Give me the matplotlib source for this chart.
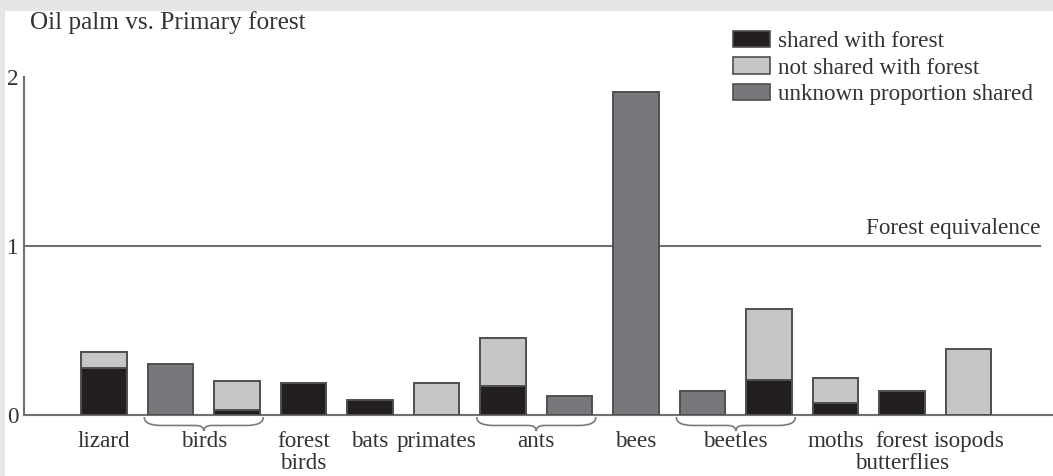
import matplotlib
matplotlib.use("Agg")
import matplotlib.pyplot as plt
from matplotlib.patches import Rectangle, Patch
from matplotlib.path import Path
from matplotlib.patches import PathPatch
import numpy as np

# ---------------- data ----------------
positions = list(range(14))
shared = [0.28, 0, 0.03, 0.19, 0.09, 0, 0.17, 0, 0, 0, 0.21, 0.07, 0.14, 0]
not_shared = [0.09, 0, 0.17, 0, 0, 0.19, 0.285, 0, 0, 0, 0.42, 0.15, 0, 0.39]
unknown = [0, 0.30, 0, 0, 0, 0, 0, 0.11, 1.91, 0.14, 0, 0, 0, 0]

single_labels = {0: "lizard", 3: "forest\nbirds", 4: "bats", 5: "primates",
                 8: "bees", 11: "moths", 12: "forest\nbutterflies", 13: "isopods"}
group_labels = [("birds", 1, 2), ("ants", 6, 7), ("beetles", 9, 10)]
yticks = [0, 1, 2]
title = "Oil palm vs. Primary forest"
ref_label = "Forest equivalence"
legend_labels = ["shared with forest", "not shared with forest", "unknown proportion shared"]

# ---------------- style ----------------
FONT = "Liberation Serif"
plt.rcParams['font.family'] = [FONT, "DejaVu Serif"]
C_SHARED = "#231f20"
C_NOT = "#c6c6c6"
C_UNK = "#77787b"
EDGE = "#4f4f4f"
AXC = "#707070"
TXT = "#333333"
FS = 16.7

W, H = 1053, 476
fig = plt.figure(figsize=(W / 100, H / 100), dpi=100)
fig.patch.set_facecolor("#e6e6e6")
fig.patches.append(Rectangle((5 / W, 0), 1 - 5 / W, 1 - 11 / H, transform=fig.transFigure,
                             facecolor="white", edgecolor="none", zorder=-10))

ax = fig.add_axes([24 / W, 1 - 415 / H, (W - 24) / W, (415 - 77) / H])
ax.set_facecolor("none")
ax.set_zorder(1)
x0 = -1.203
x1 = 14.27
ax.set_xlim(x0, x1)
ax.set_ylim(0, 2)

bw = 0.69
pos = np.array(positions)
sh = np.array(shared); ns = np.array(not_shared); un = np.array(unknown)
m = sh > 0
ax.bar(pos[m], sh[m], width=bw, color=C_SHARED, edgecolor=EDGE, linewidth=1.4, zorder=3)
m = ns > 0
ax.bar(pos[m], ns[m], bottom=sh[m], width=bw, color=C_NOT, edgecolor=EDGE, linewidth=1.4, zorder=3)
m = un > 0
ax.bar(pos[m], un[m], width=bw, color=C_UNK, edgecolor=EDGE, linewidth=1.4, zorder=3)

for s in ["top", "right"]:
    ax.spines[s].set_visible(False)
ax.spines["left"].set_color(AXC)
ax.spines["bottom"].set_color(AXC)
ax.spines["left"].set_linewidth(1.5)
ax.spines["bottom"].set_linewidth(1.5)
ax.set_xticks([])
ax.set_yticks(yticks)
ax.set_yticklabels([str(t) for t in yticks], fontsize=FS, color=TXT)
ax.tick_params(axis="y", length=0, pad=4)

# forest equivalence
ax.plot([x0, 14.075], [1, 1], color=AXC, lw=1.5, zorder=2, clip_on=False)
ax.text(14.075, 1.04, ref_label, ha="right", va="bottom", fontsize=FS, color=TXT)

# labels (each line as its own text)
Y1 = -0.092
DY = 0.132
def put_label(xp, lab):
    for i, line in enumerate(lab.split("\n")):
        ax.text(xp, Y1 - i * DY, line, ha="center", va="top", fontsize=FS, color=TXT,
                clip_on=False)

for p, lab in single_labels.items():
    put_label(p, lab)

def brace(xa, xb):
    ytop, ymid, ytip = -0.012, -0.062, -0.095
    xc = (xa + xb) / 2
    r = 0.25
    verts = [(xa, ytop), (xa, ymid), (xa + r, ymid),
             (xc - 0.12, ymid), (xc, ymid), (xc, ytip),
             (xc, ymid), (xc + 0.12, ymid),
             (xb - r, ymid), (xb, ymid), (xb, ytop)]
    codes = [Path.MOVETO, Path.CURVE3, Path.CURVE3,
             Path.LINETO, Path.CURVE3, Path.CURVE3,
             Path.CURVE3, Path.CURVE3,
             Path.LINETO, Path.CURVE3, Path.CURVE3]
    ax.add_patch(PathPatch(Path(verts, codes), facecolor="none", edgecolor="#7a7a7a",
                           lw=1.2, clip_on=False))

for lab, a, b in group_labels:
    brace(a - bw / 2 - 0.05, b + bw / 2 + 0.05)
    put_label((a + b) / 2, lab)

fig.text(30 / W, 1 - 23 / H, title, ha="left", va="center", fontsize=18.2, color=TXT)

handles = [Patch(facecolor=C_SHARED, edgecolor=EDGE, lw=1.2),
           Patch(facecolor=C_NOT, edgecolor=EDGE, lw=1.2),
           Patch(facecolor=C_UNK, edgecolor=EDGE, lw=1.2)]
leg = fig.legend(handles, legend_labels, loc="upper left", bbox_to_anchor=(733 / W, 1 - 31 / H),
                 frameon=False, fontsize=FS, handlelength=1.6, handleheight=0.7,
                 handletextpad=0.35, labelspacing=0.22, borderaxespad=0, borderpad=0)
for t in leg.get_texts():
    t.set_color(TXT)

fig.savefig("out.png", dpi=100, facecolor=fig.get_facecolor())
